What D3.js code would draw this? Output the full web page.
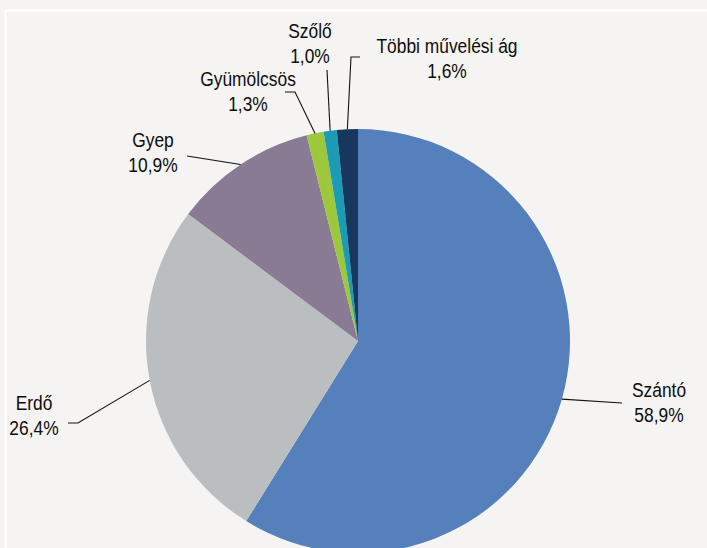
<!DOCTYPE html>
<html>
<head>
<meta charset="utf-8">
<script src="https://cdn.jsdelivr.net/npm/d3@7"></script>
<style>
  html, body { margin: 0; padding: 0; background: #f5f4f2; }
  svg { display: block; }
  text { font-family: "Liberation Sans", Arial, sans-serif; font-size: 17.4px; fill: #0d0d0d; }
</style>
</head>
<body>
<svg id="chart" width="707" height="548"></svg>
<script>
var categories = ["Szántó", "Erdő", "Gyep", "Gyümölcsös", "Szőlő", "Többi művelési ág"];
var values = [58.9, 26.4, 10.9, 1.3, 1.0, 1.6];
var valueLabels = ["58,9%", "26,4%", "10,9%", "1,3%", "1,0%", "1,6%"];
var colors = ["#5580bb", "#bbbec1", "#897b93", "#9dc83c", "#1b9bb6", "#17375e"];

// label placement (text centre, first baseline) and leader elbow points
var labelLayout = [
  { x: 659, y: 397, leader: [[622, 403]] },
  { x: 34, y: 410, leader: [[78, 423], [68, 423]] },
  { x: 153, y: 147, leader: [[187, 156]] },
  { x: 248, y: 86, leader: [[295, 92], [285, 92]] },
  { x: 310, y: 38, leader: [[327, 70]] },
  { x: 447, y: 52.5, leader: [[351, 57], [360, 57]] }
];

var svg = d3.select("#chart"),
  cx = 358,
  cy = 341,
  radius = 212;

// white frame lines
svg.append("path")
  .attr("d", "M5.5,548V10.5H707")
  .attr("fill", "none")
  .attr("stroke", "#ffffff")
  .attr("stroke-width", 2);

var data = categories.map(function(c, i) {
  return { name: c, value: values[i], label: valueLabels[i], color: colors[i], layout: labelLayout[i] };
});

var pie = d3.pie()
  .sort(null)
  .value(function(d) { return d.value; });

var arc = d3.arc().innerRadius(0).outerRadius(radius);
var edgeArc = d3.arc().innerRadius(radius).outerRadius(radius);

var g = svg.append("g").attr("transform", "translate(" + cx + "," + cy + ")");

var arcs = pie(data);

g.selectAll(".slice")
  .data(arcs)
  .enter()
  .append("path")
  .attr("class", "slice")
  .attr("d", arc)
  .attr("fill", function(d) { return d.data.color; });

// leader lines
svg.selectAll(".leader")
  .data(arcs)
  .enter()
  .append("polyline")
  .attr("class", "leader")
  .attr("fill", "none")
  .attr("stroke", "#111")
  .attr("stroke-width", 1.1)
  .attr("points", function(d) {
    var c = edgeArc.centroid(d);
    var pts = [[cx + c[0], cy + c[1]]].concat(d.data.layout.leader);
    return pts.map(function(p) { return p.join(","); }).join(" ");
  });

// labels
var labels = svg.selectAll(".label")
  .data(arcs)
  .enter()
  .append("text")
  .attr("class", "label")
  .attr("text-anchor", "middle")
  .attr("transform", function(d) {
    return "translate(" + d.data.layout.x + "," + d.data.layout.y + ") scale(1,1.2)";
  });

labels.append("tspan")
  .attr("x", 0)
  .attr("y", 0)
  .text(function(d) { return d.data.name; });

labels.append("tspan")
  .attr("x", 0)
  .attr("y", 21)
  .text(function(d) { return d.data.label; });
</script>
</body>
</html>
